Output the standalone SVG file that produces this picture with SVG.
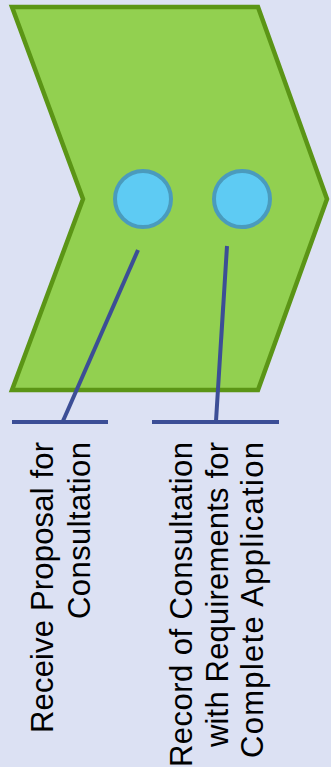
<svg xmlns="http://www.w3.org/2000/svg" width="331" height="767" viewBox="0 0 331 767">
<style>
.lbl{font-family:"Century Gothic","Liberation Sans",Arial,sans-serif;font-size:31px;fill:#000;text-anchor:end}
.dot{fill:#5ecbf3;stroke:#4a9bbd;stroke-width:4}
.con{stroke:#3c4e96;stroke-width:4;fill:none}
</style>
<rect width="331" height="767" fill="#dce1f3"/>
<g id="chevron">
<polygon points="12,7 258,7 327,199 258,390 12,390 83,199" fill="#92d050" stroke="#5b9516" stroke-width="4.5" stroke-linejoin="miter"/>
</g>
<g id="node1">
<circle class="dot" cx="143" cy="199" r="28"/>
</g>
<g id="node2">
<circle class="dot" cx="242" cy="199" r="28"/>
</g>
<g id="connectors">
<path class="con" d="M138,250 L63,421"/>
<path class="con" d="M12,422 H108"/>
<path class="con" d="M227,246 L216,421"/>
<path class="con" d="M152,422 H279"/>
</g>
<g id="label1">
<text class="lbl" transform="translate(53,442) rotate(-90)" textLength="291">Receive Proposal for</text>
<text class="lbl" transform="translate(90,442) rotate(-90)" textLength="177">Consultation</text>
</g>
<g id="label2">
<text class="lbl" transform="translate(192,442) rotate(-90)" textLength="325">Record of Consultation</text>
<text class="lbl" transform="translate(228,442) rotate(-90)" textLength="305">with Requirements for</text>
<text class="lbl" transform="translate(263,442) rotate(-90)" textLength="316">Complete Application</text>
</g>
</svg>
